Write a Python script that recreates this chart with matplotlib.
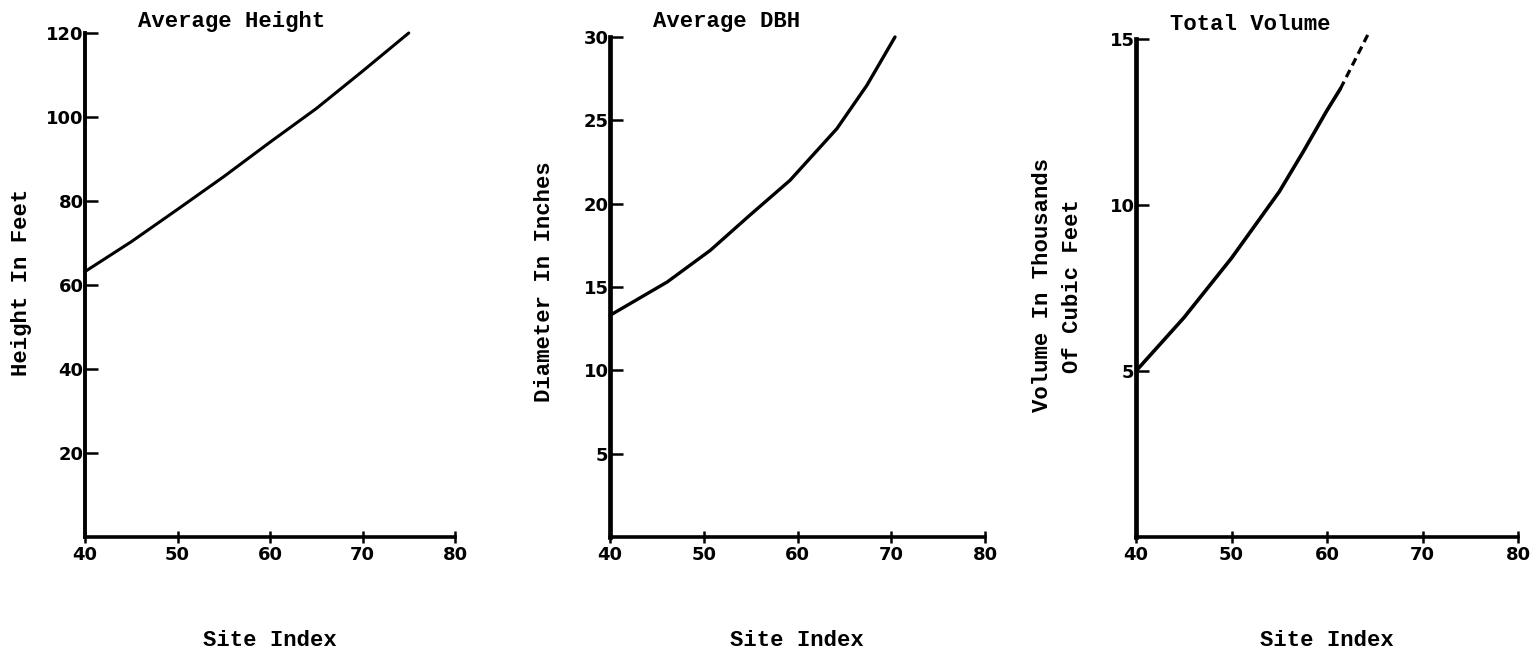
import matplotlib
matplotlib.use("Agg")
import matplotlib.pyplot as plt

# values
site_h = [40, 45, 50, 55, 60, 65, 70, 75]
height_ft = [63.2, 70.3, 78.0, 85.8, 94.0, 102.0, 110.9, 120.0]

site_d = [40, 46.1, 50.7, 54.9, 59.2, 64.2, 67.4, 70.4]
dbh_in = [13.3, 15.3, 17.2, 19.3, 21.4, 24.5, 27.1, 30.0]

site_v = [40, 45, 50, 55, 57.5, 60, 61.4]
volume_k = [5.0, 6.6, 8.4, 10.4, 11.6, 12.85, 13.5]
site_v_ext = [61.4, 64.4]
volume_k_ext = [13.5, 15.2]

x_ticks = [40, 50, 60, 70, 80]
title_font = dict(family="Liberation Mono", weight="bold", size=16)
tick_font = dict(family="DejaVu Sans", weight="bold", size=13)

W, H = 1536, 651
fig = plt.figure(figsize=(W / 100, H / 100), dpi=100)


def px(x, y):
    return x / W, 1 - y / H


def make_axes(left, right, top, bottom, ymax, yticks, ylw):
    ax = fig.add_axes([left / W, 1 - bottom / H, (right - left) / W, (bottom - top) / H])
    ax.set_xlim(40, 80)
    ax.set_ylim(0, ymax)
    for side in ("top", "right"):
        ax.spines[side].set_visible(False)
    ax.spines["left"].set_linewidth(ylw)
    ax.spines["bottom"].set_linewidth(2.6)
    for side in ("left", "bottom"):
        ax.spines[side].set_capstyle("projecting")
    ax.set_xticks(x_ticks)
    ax.set_xticklabels([str(t) for t in x_ticks], fontdict=tick_font)
    ax.set_yticks(yticks)
    ax.set_yticklabels([str(t) for t in yticks], fontdict=tick_font)
    ax.tick_params(axis="x", direction="inout", length=9, width=1.8, pad=2)
    ax.tick_params(axis="y", direction="in", length=9, width=1.8, pad=1)
    ax.patch.set_alpha(0)
    return ax


ax1 = make_axes(85, 455, 33, 537, 120, [20, 40, 60, 80, 100, 120], 2.8)
ax1.plot(site_h, height_ft, color="black", lw=2.2, solid_capstyle="round")

ax2 = make_axes(610, 985, 37, 537, 30, [5, 10, 15, 20, 25, 30], 3.4)
ax2.plot(site_d, dbh_in, color="black", lw=2.4, solid_capstyle="round")

ax3 = make_axes(1136, 1518, 39, 537, 15, [5, 10, 15], 3.4)
ax3.plot(site_v, volume_k, color="black", lw=2.6, solid_capstyle="round")
ax3.plot(site_v_ext, volume_k_ext, color="black", lw=2.3, linestyle=(0, (2.5, 1.6)))
for ax in (ax1, ax2, ax3):
    for line in ax.lines:
        line.set_clip_on(False)

fig.text(*px(232, 22), "Average Height", ha="center", va="center", **title_font)
fig.text(*px(727, 22), "Average DBH", ha="center", va="center", **title_font)
fig.text(*px(1250, 24), "Total Volume", ha="center", va="center", **title_font)

for cx in (270, 797, 1327):
    fig.text(*px(cx, 640), "Site Index", ha="center", va="center", **title_font)

fig.text(*px(22, 282), "Height In Feet", rotation=90, ha="center", va="center", **title_font)
fig.text(*px(545, 282), "Diameter In Inches", rotation=90, ha="center", va="center", **title_font)
fig.text(*px(1043, 285), "Volume In Thousands", rotation=90, ha="center", va="center", **title_font)
fig.text(*px(1073, 286), "Of Cubic Feet", rotation=90, ha="center", va="center", **title_font)

fig.savefig("out.png", dpi=100, facecolor="white")
